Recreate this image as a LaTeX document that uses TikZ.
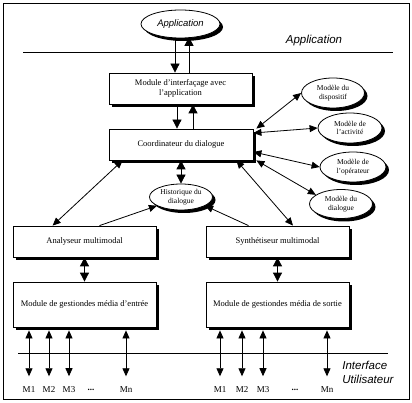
\documentclass[tikz,border=0pt]{standalone}
\usepackage{fontspec}
\setmainfont{Liberation Serif}
\setsansfont{Liberation Sans}
\usetikzlibrary{arrows.meta,shapes.geometric,shadows}

\begin{document}
\begin{tikzpicture}[x=1pt,y=-1pt,line width=0.8pt,
    ombre/.style={drop shadow={shadow xshift=3pt,shadow yshift=-3pt,opacity=1,fill=black}},
    boite/.style={draw,fill=white,ombre,minimum width=143pt,minimum height=31pt,inner sep=1pt,align=center,font=\fontsize{8.5}{10}\selectfont},
    modele/.style={ellipse,draw,fill=white,ombre,minimum width=63pt,minimum height=30pt,inner sep=0pt,align=center,font=\fontsize{7.5}{8.5}\selectfont},
    titre/.style={font=\sffamily\itshape\fontsize{11.5}{14}\selectfont},
    gros/.style={-{Triangle[length=9pt,width=9pt]}},
    gros2/.style={{Triangle[length=9pt,width=9pt]}-{Triangle[length=9pt,width=9pt]}},
    fin/.style={{Triangle[length=8pt,width=7pt]}-{Triangle[length=8pt,width=7pt]}},
    fin1/.style={-{Triangle[length=8pt,width=7pt]}},
    media/.style={{Triangle[length=8pt,width=7pt]}-{Triangle[length=8pt,width=7pt]}}]
    \useasboundingbox (0,0) rectangle (412,403);
    \draw (3,3) rectangle (409,399);

    \draw (23,52) -- (393,52);
    \draw (18,353) -- (388,353);
    \node[titre] (tapp) at (314,41) {Application};
    \node[titre,align=left,anchor=west,inner sep=0pt] (tiu) at (342,372) {Interface\\Utilisateur};

    \node[modele,minimum width=79pt,minimum height=28pt,font=\sffamily\itshape\fontsize{9.5}{11}\selectfont] (appl) at (180.5,24) {Application};
    \node[boite] (mia) at (180.5,88.5) {Module d'interfaçage avec\\l'application};
    \node[boite,minimum width=144pt] (coord) at (181,144.5) {Coordinateur du dialogue};
    \node[modele,minimum height=26pt] (hist) at (181,197) {Historique du\\dialogue};

    \node[modele] (disp) at (333,93) {Modèle du\\dispositif};
    \node[modele,minimum width=64pt] (acti) at (350,128) {Modèle de\\l'activité};
    \node[modele,minimum width=66pt] (oper) at (353,167) {Modèle de\\l'opérateur};
    \node[modele,minimum height=29pt] (dial) at (341,204) {Modèle du\\dialogue};

    \node[boite] (ana) at (84.5,241.5) {Analyseur multimodal};
    \node[boite] (syn) at (277.5,241.5) {Synthétiseur multimodal};
    \node[boite,minimum height=45pt] (gin) at (84.5,304.5) {Module de gestiondes média d'entrée};
    \node[boite,minimum height=45pt] (gout) at (277.5,304.5) {Module de gestiondes média de sortie};

    \draw[gros] ([xshift=-5.5pt]appl.south) -- ([xshift=-5.5pt]mia.north);
    \draw[gros] ([xshift=8.5pt]mia.north) -- ([xshift=8.5pt,yshift=1.5pt]appl.south);
    \draw[gros] ([xshift=-3.5pt]mia.south) -- ([xshift=-4pt]coord.north);
    \draw[gros] ([xshift=12pt]coord.north) -- ([xshift=12.5pt]mia.south);
    \draw[gros2] (coord.south) -- (hist.north);

    \draw[fin] ([xshift=14pt]coord.south west) -- ([xshift=40pt]ana.north west);
    \draw[fin1] ([xshift=15pt]ana.north) -- (hist.200);
    \draw[fin1] ([xshift=-29pt]syn.north) -- (hist.340);
    \draw[fin] ([xshift=-17pt]coord.south east) -- ([xshift=15.5pt]syn.north);

    \draw[fin] ([xshift=3pt]coord.north east) -- (disp.west);
    \draw[fin] ([yshift=11.5pt]coord.east) -- (acti.west);
    \draw[fin] ([yshift=-7.5pt]coord.east) -- (oper.west);
    \draw[fin] ([xshift=3pt]coord.south east) -- (dial.160);

    \draw[gros2] (ana.south) -- (gin.north);
    \draw[gros2] (syn.south) -- (gout.north);

    \foreach \n/\x/\t in {ga1/29/M1, ga2/49/M2, ga3/69/M3, gan/126/Mn,
                          gb1/220/M1, gb2/242/M2, gb3/263/M3, gbn/327/Mn}
        \node[font=\fontsize{9}{10}\selectfont] (\n) at (\x,390) {\t};
    \node[font=\bfseries\fontsize{9}{10}\selectfont] (gad) at (91,390) {...};
    \node[font=\bfseries\fontsize{9}{10}\selectfont] (gbd) at (295,390) {...};

    \foreach \n in {ga1,ga2,ga3,gan}
        \draw[media] ([yshift=-3pt]gin.south -| \n) -- ([yshift=7pt]\n.north);
    \foreach \n in {gb1,gb2,gb3,gbn}
        \draw[media] ([yshift=-3pt]gout.south -| \n) -- ([yshift=7pt]\n.north);
\end{tikzpicture}
\end{document}
